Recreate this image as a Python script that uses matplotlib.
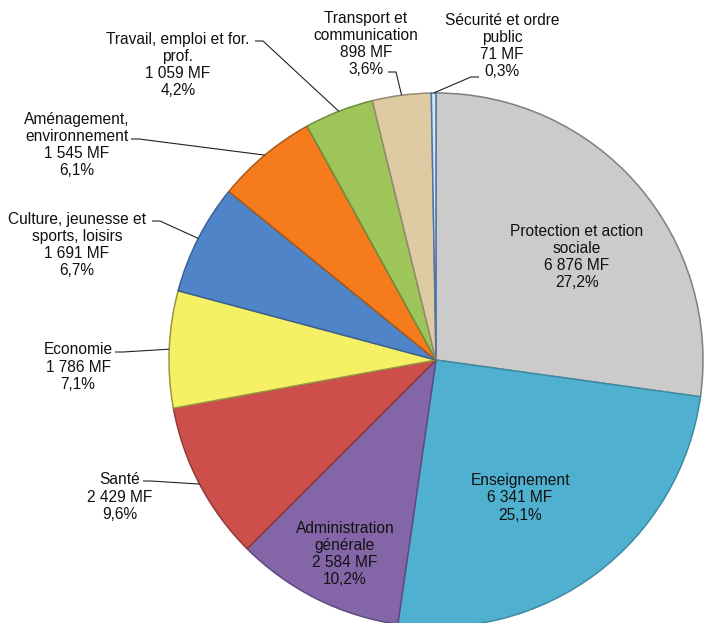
import matplotlib
matplotlib.use("Agg")
import matplotlib.pyplot as plt
import numpy as np

# Budget par fonction (millions de francs), dans le sens horaire depuis midi
categories = ["Protection et action\nsociale", "Enseignement", "Administration\ngénérale",
              "Santé", "Economie", "Culture, jeunesse et\nsports, loisirs",
              "Aménagement,\nenvironnement", "Travail, emploi et for.\nprof.",
              "Transport et\ncommunication", "Sécurité et ordre\npublic"]
montants = [6876, 6341, 2584, 2429, 1786, 1691, 1545, 1059, 898, 71]
montants_txt = ["6 876", "6 341", "2 584", "2 429", "1 786", "1 691", "1 545", "1 059", "898", "71"]
parts = ["27,2%", "25,1%", "10,2%", "9,6%", "7,1%", "6,7%", "6,1%", "4,2%", "3,6%", "0,3%"]
couleurs = ["#cbcbcb", "#4fb1cf", "#8466a8", "#cc4f4b", "#f6f064", "#4f85c8",
            "#f57b1c", "#9dc55a", "#dfcba3", "#d6e4f2"]
bords = ["#7f7f7f", "#3f8aa3", "#5e4a80", "#8f3a37", "#9c9744", "#3a6193",
         "#a85a18", "#6f8c40", "#968a70", "#4f74a8"]

W, H = 705, 623
CX, CY, R = 436, 360, 267  # centre et rayon du camembert en pixels


def px(x, y):
    """pixels de l'image -> coordonnées des données (rayon = 1)"""
    return (x - CX) / R, (CY - y) / R


# position du texte (pixels), point de départ du trait, côté du trait
etiquettes = {
    0: dict(pos=(577, 257)),
    1: dict(pos=(520, 498)),
    2: dict(pos=(345, 554)),
    3: dict(pos=(120, 497), trait=(143, 481)),
    4: dict(pos=(78, 367), trait=(115, 352)),
    5: dict(pos=(77, 245), trait=(152, 221)),
    6: dict(pos=(77, 145), trait=(131, 139)),
    7: dict(pos=(178, 65), trait=(255, 41)),
    8: dict(pos=(366, 44), trait=(388, 72)),
    9: dict(pos=(502, 46), trait=(479, 77), gauche=True),
}

fig = plt.figure(figsize=(W / 100, H / 100), dpi=100)
ax = fig.add_axes([0, 0, 1, 1])
ax.set_xlim(px(0, 0)[0], px(W, 0)[0])
ax.set_ylim(px(0, H)[1], px(0, 0)[1])
ax.axis("off")

wedges, _ = ax.pie(montants, colors=couleurs, startangle=90, counterclock=False,
                   radius=1, center=(0, 0), frame=True,
                   wedgeprops=dict(linewidth=1.1))
for w, b in zip(wedges, bords):
    w.set_edgecolor(b)
ax.axis("off")

police = dict(family=["Liberation Sans", "DejaVu Sans"], fontsize=11.2, color="#111111",
              ha="center", va="center", linespacing=1.17)

for i, w in enumerate(wedges):
    e = etiquettes[i]
    texte = f"{categories[i]}\n{montants_txt[i]} MF\n{parts[i]}"
    tx, ty = px(*e["pos"])
    ax.text(tx, ty, texte, **police)
    if "trait" in e:
        a = np.deg2rad((w.theta1 + w.theta2) / 2)
        ex, ey = np.cos(a), np.sin(a)
        sx, sy = px(*e["trait"])
        dx = -8 / R if e.get("gauche") else 8 / R
        ax.plot([sx, sx + dx, ex], [sy, sy, ey], color="#222222", lw=0.8,
                solid_capstyle="butt")

fig.savefig("out.png", dpi=100)
